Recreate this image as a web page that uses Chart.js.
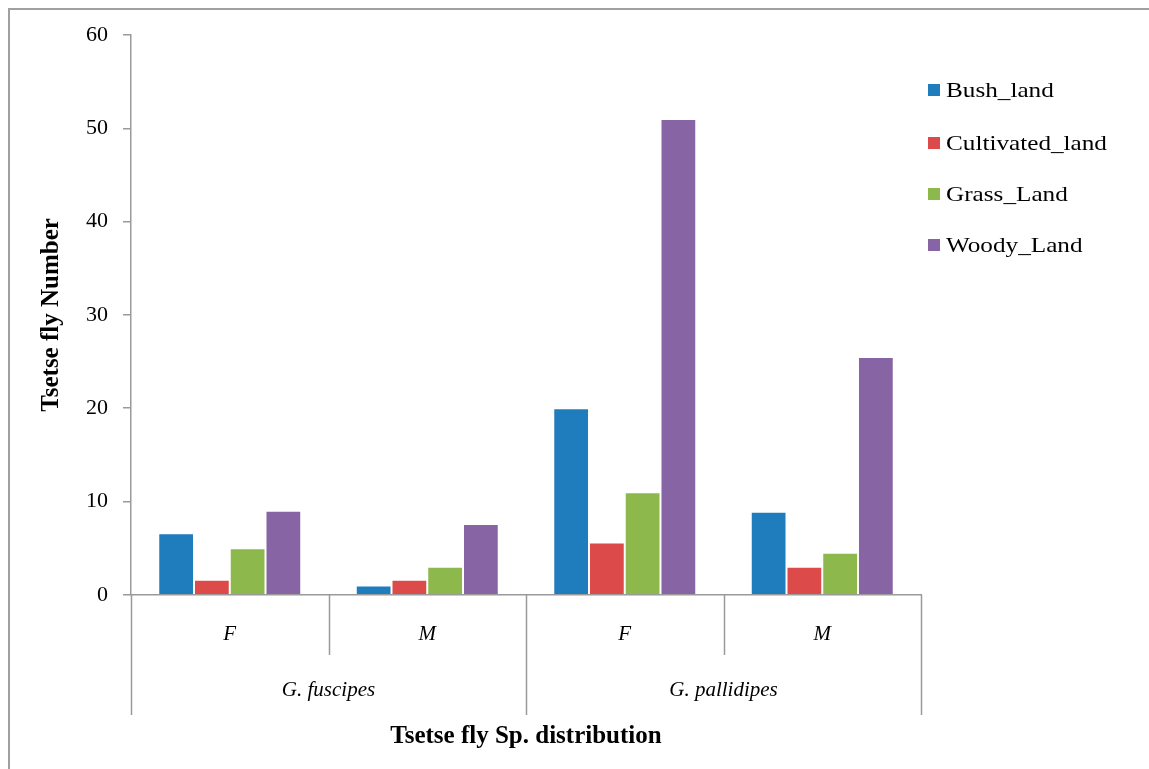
<!DOCTYPE html>
<html>
<head>
<meta charset="utf-8">
<script src="https://cdn.jsdelivr.net/npm/chart.js@4/dist/chart.umd.min.js"></script>
<style>
  html,body{margin:0;padding:0;background:#fff;}
  #wrap{position:relative;width:1149px;height:769px;}
</style>
</head>
<body>
<div id="wrap"><canvas id="c" width="1149" height="769"></canvas></div>
<script>
/* data */
const sexLabels   = ['F','M','F','M'];
const speciesGroups = ['G. fuscipes','G. pallidipes'];
const seriesNames = ['Bush_land','Cultivated_land','Grass_Land','Woody_Land'];
const bushLand       = [6.6, 1.0, 20.0, 8.9];
const cultivatedLand = [1.6, 1.6, 5.6, 3.0];
const grassLand      = [5.0, 3.0, 11.0, 4.5];
const woodyLand      = [9.0, 7.6, 51.0, 25.5];
const yTicks = [0,10,20,30,40,50,60];

const COLORS = ['#1f7dbd','#dc4b4a','#8db84b','#8764a3'];
const SERIF  = '"Liberation Serif","Times New Roman",serif';
const AXIS_GRAY = '#9a9a9a';

/* 좌/상단 프레임 + 다단 x축 구분선, 그룹 라벨, 범례 */
const decorPlugin = {
  id:'decor',
  afterDraw(chart){
    const {ctx, chartArea:a, scales:{x}} = chart;
    ctx.save();
    // frame (only top/left edges are visible in the picture)
    ctx.strokeStyle='#a0a0a0'; ctx.lineWidth=2;
    ctx.beginPath(); ctx.moveTo(9,1200); ctx.lineTo(9,9); ctx.lineTo(1200,9); ctx.stroke();

    // category separators
    const n = sexLabels.length;
    const bounds = [a.left];
    for(let i=0;i<n-1;i++) bounds.push((x.getPixelForValue(i)+x.getPixelForValue(i+1))/2);
    bounds.push(a.right);
    ctx.strokeStyle=AXIS_GRAY; ctx.lineWidth=1.5;
    bounds.forEach((bx,i)=>{
      const outer = (i%2===0);
      ctx.beginPath(); ctx.moveTo(Math.round(bx)+0.5,a.bottom); ctx.lineTo(Math.round(bx)+0.5, outer?715:655); ctx.stroke();
    });

    // species labels
    ctx.fillStyle='#000'; ctx.font='italic 21px '+SERIF; ctx.textAlign='center'; ctx.textBaseline='middle';
    speciesGroups.forEach((g,i)=>{
      ctx.fillText(g,(bounds[i*2]+bounds[i*2+2])/2,690);
    });

    // legend (text is a bit wide in the original)
    ctx.font='21px '+SERIF; ctx.textAlign='left';
    const rows=[90,143,194,245];
    chart.data.datasets.forEach((ds,i)=>{
      ctx.fillStyle=ds.backgroundColor;
      ctx.fillRect(928,rows[i]-6,12,12);
      ctx.fillStyle='#000';
      ctx.save(); ctx.translate(946,rows[i]+1); ctx.scale(1.2,1);
      ctx.fillText(ds.label,0,0);
      ctx.restore();
    });
    ctx.restore();
  }
};

const seriesData = [bushLand, cultivatedLand, grassLand, woodyLand];

new Chart(document.getElementById('c'),{
  type:'bar',
  data:{
    labels:sexLabels,
    datasets:seriesNames.map((name,i)=>({
      label:name,
      data:seriesData[i],
      backgroundColor:COLORS[i],
      borderColor:'rgba(255,255,255,0.45)',
      borderWidth:1,
      categoryPercentage:0.724,
      barPercentage:1
    }))
  },
  options:{
    responsive:false,
    animation:false,
    layout:{padding:{left:35,top:35,right:228,bottom:15}},
    plugins:{legend:{display:false},tooltip:{enabled:false}},
    scales:{
      x:{
        grid:{display:false},
        border:{display:true,color:AXIS_GRAY,width:1.5},
        ticks:{color:'#000',font:{family:SERIF,size:21,style:'italic'},padding:19},
        title:{display:true,text:'Tsetse fly Sp. distribution',color:'#000',
               font:{family:SERIF,size:25,weight:'bold'},padding:{top:56,bottom:2}}
      },
      y:{
        min:0,max:60,
        afterBuildTicks(s){ s.ticks = yTicks.map(v=>({value:v})); },
        grid:{drawOnChartArea:false,color:AXIS_GRAY,tickLength:8,lineWidth:1.5},
        border:{display:true,color:AXIS_GRAY,width:1.5},
        ticks:{color:'#000',font:{family:SERIF,size:22},padding:15},
        title:{display:true,text:'Tsetse fly Number',color:'#000',
               font:{family:SERIF,size:25,weight:'bold'},padding:{top:2,bottom:4}}
      }
    }
  },
  plugins:[decorPlugin]
});
</script>
</body>
</html>
